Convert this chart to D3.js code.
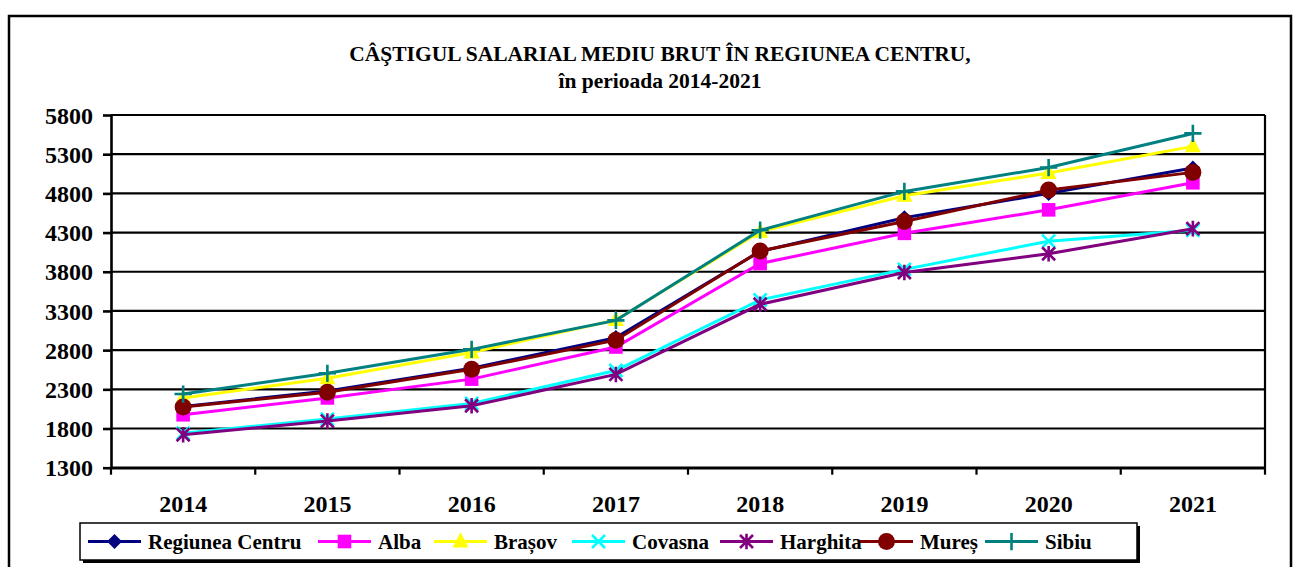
<!DOCTYPE html>
<html>
<head>
<meta charset="utf-8">
<script src="https://cdn.jsdelivr.net/npm/d3@7"></script>
<style>
  body { margin: 0; background: #fff; }
  text { font-family: "Liberation Serif", "Times New Roman", serif; font-weight: bold; fill: #000; }
</style>
</head>
<body>
<svg id="chart"></svg>
<script>
// chart size
const width = 1298;
const height = 567;

// data
const years = ["2014", "2015", "2016", "2017", "2018", "2019", "2020", "2021"];
const yTicks = [1300, 1800, 2300, 2800, 3300, 3800, 4300, 4800, 5300, 5800];

const seriesNames = ["Regiunea Centru", "Alba", "Brașov", "Covasna", "Harghita", "Mureș", "Sibiu"];
const seriesColors = ["#000080", "#FF00FF", "#FFFF00", "#00FFFF", "#800080", "#800000", "#008080"];
const seriesMarkers = ["diamond", "square", "triangle", "x", "asterisk", "circle", "plus"];

const regiuneaCentru = [2080, 2280, 2570, 2960, 4060, 4490, 4800, 5125];
const alba = [1975, 2190, 2430, 2840, 3905, 4290, 4590, 4935];
const brasov = [2190, 2440, 2770, 3185, 4310, 4770, 5060, 5400];
const covasna = [1740, 1920, 2120, 2540, 3440, 3830, 4190, 4330];
const harghita = [1720, 1895, 2090, 2490, 3385, 3790, 4030, 4350];
const mures = [2073, 2264, 2555, 2927, 4065, 4440, 4842, 5068];
const sibiu = [2240, 2505, 2810, 3180, 4330, 4825, 5130, 5565];

const seriesValues = [regiuneaCentru, alba, brasov, covasna, harghita, mures, sibiu];

// half-size of each marker in px
const markerSize = { diamond: 7.5, square: 6.8, triangle: 8, x: 6.5, asterisk: 6.5, plus: 7.5, circle: 8.5 };

const margin = { top: 115, bottom: 99.3, left: 111, right: 33 };

const svg = d3.select("#chart")
  .attr("width", width)
  .attr("height", height);

// outer chart frame (bottom runs off the page)
svg.append("rect")
  .attr("x", 9).attr("y", 16)
  .attr("width", 1282).attr("height", 600)
  .attr("fill", "none")
  .attr("stroke", "#000")
  .attr("stroke-width", 2.5);

const xScale = d3.scaleBand()
  .domain(years)
  .range([margin.left, width - margin.right])
  .padding(0);

const yScale = d3.scaleLinear()
  .domain([1300, 5800])
  .range([height - margin.bottom, margin.top]);

drawTitles();
drawAxis();
drawSeries();
drawLegend();

function translate(x, y) {
  return "translate(" + String(x) + "," + String(y) + ")";
}

/*
 * marker shapes, centred on 0,0
 */
function markerPath(type, s) {
  switch (type) {
    case "diamond":
      return `M0,${-s}L${s},0L0,${s}L${-s},0Z`;
    case "square":
      return `M${-s},${-s}H${s}V${s}H${-s}Z`;
    case "triangle":
      return `M0,${-s * 1.15}L${s},${s * 0.75}L${-s},${s * 0.75}Z`;
    case "x":
      return `M${-s},${-s}L${s},${s}M${-s},${s}L${s},${-s}`;
    case "asterisk":
      return `M${-s},${-s}L${s},${s}M${-s},${s}L${s},${-s}M0,${-s * 1.2}V${s * 1.2}`;
    case "plus":
      return `M${-s * 1.15},0H${s * 1.15}M0,${-s * 1.15}V${s * 1.15}`;
    case "circle":
      return d3.symbol(d3.symbolCircle, Math.PI * s * s)();
  }
}

function styleMarker(sel, type, color) {
  if (type == "x" || type == "asterisk" || type == "plus") {
    sel.attr("fill", "none").attr("stroke", color).attr("stroke-width", 2.6);
  } else {
    sel.attr("fill", color).attr("stroke", "none");
  }
}

function drawTitles() {
  let cx = 660;
  svg.append("text")
    .attr("x", cx).attr("y", 61)
    .attr("text-anchor", "middle")
    .style("font-size", "21.5px")
    .text("CÂŞTIGUL SALARIAL MEDIU BRUT ÎN REGIUNEA CENTRU,");

  svg.append("text")
    .attr("x", cx).attr("y", 88)
    .attr("text-anchor", "middle")
    .style("font-size", "21.5px")
    .text("în perioada 2014-2021");
}

function drawAxis() {
  let x0 = margin.left;
  let x1 = width - margin.right;

  // horizontal grid lines
  svg.append("g")
    .attr("class", "ygrid")
    .selectAll("line")
    .data(yTicks)
    .enter()
    .append("line")
    .attr("x1", x0).attr("x2", x1)
    .attr("y1", d => yScale(d)).attr("y2", d => yScale(d))
    .attr("stroke", "#000")
    .attr("stroke-width", 2.2);

  // right edge of the plot area
  svg.append("line")
    .attr("x1", x1).attr("x2", x1)
    .attr("y1", yScale(5800)).attr("y2", yScale(1300))
    .attr("stroke", "#000")
    .attr("stroke-width", 2.2);

  let yAxis = d3.axisLeft(yScale)
    .tickValues(yTicks)
    .tickFormat(d3.format("d"))
    .tickSize(8).tickSizeOuter(0).tickPadding(10);
  let yg = svg.append("g")
    .attr("transform", translate(x0, 0))
    .call(yAxis);
  yg.selectAll("line, path").attr("stroke", "#000").attr("stroke-width", 2.6);
  yg.selectAll("text")
    .style("font-size", "24px")
    .style("font-family", "'Liberation Serif', serif")
    .attr("dy", "0.34em");

  let xAxis = d3.axisBottom(xScale).tickSize(0).tickPadding(27);
  let xg = svg.append("g")
    .attr("transform", translate(0, yScale(1300)))
    .call(xAxis);
  xg.select("path.domain").attr("stroke", "#000").attr("stroke-width", 2.6);
  xg.selectAll("text")
    .style("font-size", "24px")
    .style("font-family", "'Liberation Serif', serif");

  // category separators below the axis
  let edges = years.map(d => xScale(d)).concat([x1]);
  xg.selectAll("line.sep")
    .data(edges)
    .enter()
    .append("line")
    .attr("class", "sep")
    .attr("x1", d => d).attr("x2", d => d)
    .attr("y1", 0).attr("y2", 7)
    .attr("stroke", "#000")
    .attr("stroke-width", 2.2);
}

function drawSeries() {
  let cx = d => xScale(d) + xScale.bandwidth() / 2;

  seriesNames.forEach((name, i) => {
    let values = seriesValues[i];
    let color = seriesColors[i];
    let type = seriesMarkers[i];
    let g = svg.append("g").attr("class", "series");

    let line = d3.line()
      .x((d, j) => cx(years[j]))
      .y(d => yScale(d));

    g.append("path")
      .datum(values)
      .attr("d", line)
      .attr("fill", "none")
      .attr("stroke", color)
      .attr("stroke-width", 3);

    let marks = g.selectAll("path.mark")
      .data(values)
      .enter()
      .append("path")
      .attr("class", "mark")
      .attr("transform", (d, j) => translate(cx(years[j]), yScale(d)))
      .attr("d", markerPath(type, markerSize[type]));
    styleMarker(marks, type, color);
  });
}

function drawLegend() {
  let lx = 80, ly = 523, lw = 1057, lh = 37;
  let legend = svg.append("g").attr("id", "legend");

  // shadow then box
  legend.append("rect")
    .attr("x", lx + 3).attr("y", ly + 3)
    .attr("width", lw).attr("height", lh)
    .attr("fill", "#000");
  legend.append("rect")
    .attr("x", lx).attr("y", ly)
    .attr("width", lw).attr("height", lh)
    .attr("fill", "#fff")
    .attr("stroke", "#000")
    .attr("stroke-width", 1.5);

  let starts = [88, 318, 434, 572, 720, 860, 985];
  let midY = ly + lh / 2;

  seriesNames.forEach((name, i) => {
    let g = legend.append("g").attr("transform", translate(starts[i], midY));
    g.append("line")
      .attr("x1", 0).attr("x2", 53)
      .attr("y1", 0).attr("y2", 0)
      .attr("stroke", seriesColors[i])
      .attr("stroke-width", 3);
    let m = g.append("path")
      .attr("transform", translate(26.5, 0))
      .attr("d", markerPath(seriesMarkers[i], markerSize[seriesMarkers[i]]));
    styleMarker(m, seriesMarkers[i], seriesColors[i]);
    g.append("text")
      .attr("x", 60).attr("y", 0)
      .attr("dy", "0.35em")
      .style("font-size", "21px")
      .text(name);
  });
}
</script>
</body>
</html>
